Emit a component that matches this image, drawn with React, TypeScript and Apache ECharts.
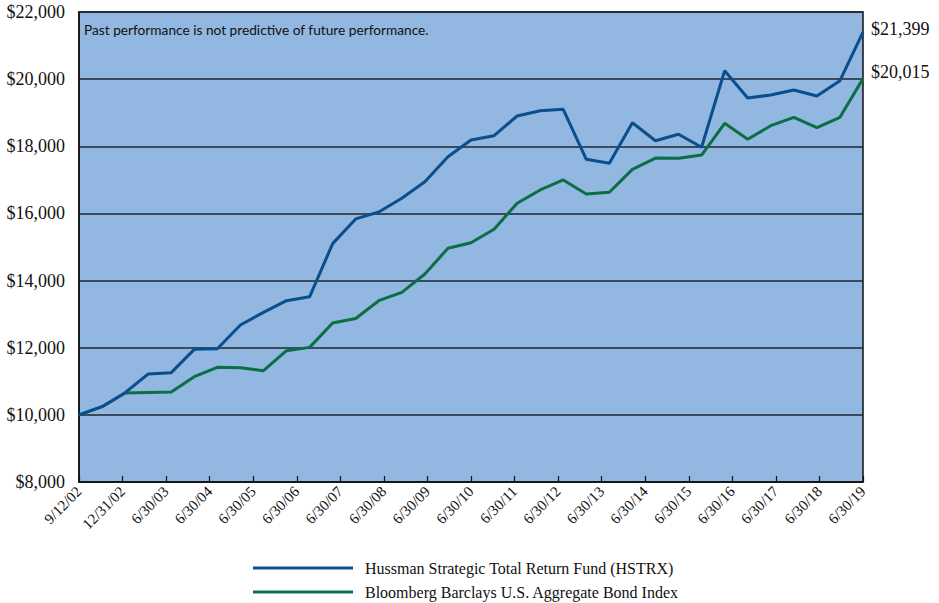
import React, { useEffect, useRef } from "react";
import * as echarts from "echarts";

const pointDates = [
  "9/12/02", "12/31/02", "6/30/03", "12/31/03", "6/30/04", "12/31/04", "6/30/05", "12/31/05",
  "6/30/06", "12/31/06", "6/30/07", "12/31/07", "6/30/08", "12/31/08", "6/30/09", "12/31/09",
  "6/30/10", "12/31/10", "6/30/11", "12/31/11", "6/30/12", "12/31/12", "6/30/13", "12/31/13",
  "6/30/14", "12/31/14", "6/30/15", "12/31/15", "6/30/16", "12/31/16", "6/30/17", "12/31/17",
  "6/30/18", "12/31/18", "6/30/19",
];

const tickLabels = [
  "9/12/02", "12/31/02", "6/30/03", "6/30/04", "6/30/05", "6/30/06", "6/30/07", "6/30/08",
  "6/30/09", "6/30/10", "6/30/11", "6/30/12", "6/30/13", "6/30/14", "6/30/15", "6/30/16",
  "6/30/17", "6/30/18", "6/30/19",
];

const fundName = "Hussman Strategic Total Return Fund (HSTRX)";
const indexName = "Bloomberg Barclays U.S. Aggregate Bond Index";

const fundValues = [
  10000, 10243, 10660, 11217, 11257, 11952, 11970, 12676, 13054, 13400, 13515, 15100,
  15837, 16042, 16450, 16945, 17690, 18187, 18315, 18902, 19060, 19100, 17612, 17493,
  18702, 18166, 18357, 17970, 20251, 19438, 19528, 19677, 19498, 19954, 21399,
];

const indexValues = [
  10000, 10243, 10650, 10665, 10680, 11136, 11416, 11405, 11315, 11910, 12010, 12735,
  12870, 13400, 13650, 14195, 14961, 15128, 15527, 16301, 16698, 16996, 16578, 16629,
  17314, 17650, 17642, 17740, 18684, 18208, 18613, 18863, 18553, 18863, 20015,
];

const note = "Past performance is not predictive of future performance.";

const serif = "'Liberation Serif', 'Times New Roman', serif";
const fmt = (v: number) => "$" + Math.round(v).toLocaleString("en-US");

export default function App() {
  const ref = useRef<HTMLDivElement>(null);
  useEffect(() => {
    if (!ref.current) return;
    const chart = echarts.init(ref.current, undefined, { renderer: "svg" });
    const lastIdx = pointDates.length - 1;
    chart.setOption({
      animation: false,
      textStyle: { fontFamily: serif },
      grid: {
        left: 79,
        top: 12,
        right: 76,
        bottom: 121,
        show: true,
        backgroundColor: "#92b7e1",
        borderColor: "#111",
        borderWidth: 1.5,
      },
      legend: {
        orient: "vertical",
        left: 253,
        top: 558,
        padding: 0,
        itemWidth: 100,
        itemHeight: 3,
        itemGap: 4,
        icon: "rect",
        data: [fundName, indexName],
        textStyle: {
          fontFamily: serif,
          fontSize: 16,
          color: "#111",
          lineHeight: 20,
          padding: [0, 0, 0, 7],
        },
      },
      graphic: [
        {
          type: "text",
          left: 84,
          top: 22,
          style: {
            text: note,
            font: "13.7px Lato",
            fill: "#111",
          },
        },
      ],
      xAxis: [
        {
          type: "category",
          data: pointDates,
          boundaryGap: false,
          show: false,
        },
        {
          type: "category",
          data: tickLabels,
          boundaryGap: false,
          position: "bottom",
          axisLine: { show: true, lineStyle: { color: "#111", width: 1.5 } },
          axisTick: { show: true, inside: true, length: 6, lineStyle: { color: "#111", width: 1.2 } },
          axisLabel: {
            rotate: 45,
            interval: 0,
            margin: 7,
            fontFamily: serif,
            fontSize: 15,
            color: "#111",
            formatter: (v: string) => `{s|${v}}`,
            rich: { s: { fontFamily: serif, fontSize: 15, color: "#111" } },
          },
          splitLine: { show: false },
        },
      ],
      yAxis: {
        type: "value",
        min: 8000,
        max: 22000,
        interval: 2000,
        axisLine: { show: true, lineStyle: { color: "#111", width: 1.5 } },
        axisTick: { show: false },
        axisLabel: {
          formatter: (v: number) => `{s|${fmt(v)}}`,
          rich: { s: { fontFamily: serif, fontSize: 18, color: "#111" } },
          fontFamily: serif,
          fontSize: 18,
          color: "#111",
          margin: 14,
        },
        splitLine: { show: true, lineStyle: { color: "#1e2630", width: 1.5 } },
      },
      series: [
        {
          name: indexName,
          type: "line",
          xAxisIndex: 0,
          data: indexValues,
          symbol: "none",
          color: "#0b6e45",
          lineStyle: { width: 3, color: "#0b6e45" },
          endLabel: {
            show: true,
            formatter: () => fmt(indexValues[lastIdx]),
            fontFamily: serif,
            fontSize: 18,
            color: "#111",
            offset: [0, -7],
          },
        },
        {
          name: fundName,
          type: "line",
          xAxisIndex: 0,
          data: fundValues,
          symbol: "none",
          color: "#0a4e8c",
          lineStyle: { width: 3, color: "#0a4e8c" },
          endLabel: {
            show: true,
            formatter: () => fmt(fundValues[lastIdx]),
            fontFamily: serif,
            fontSize: 18,
            color: "#111",
            offset: [0, -3],
          },
        },
      ],
    });
    return () => chart.dispose();
  }, []);
  return (
    <div
      ref={ref}
      style={{ position: "absolute", left: 0, top: 0, width: 939, height: 603 }}
    />
  );
}
